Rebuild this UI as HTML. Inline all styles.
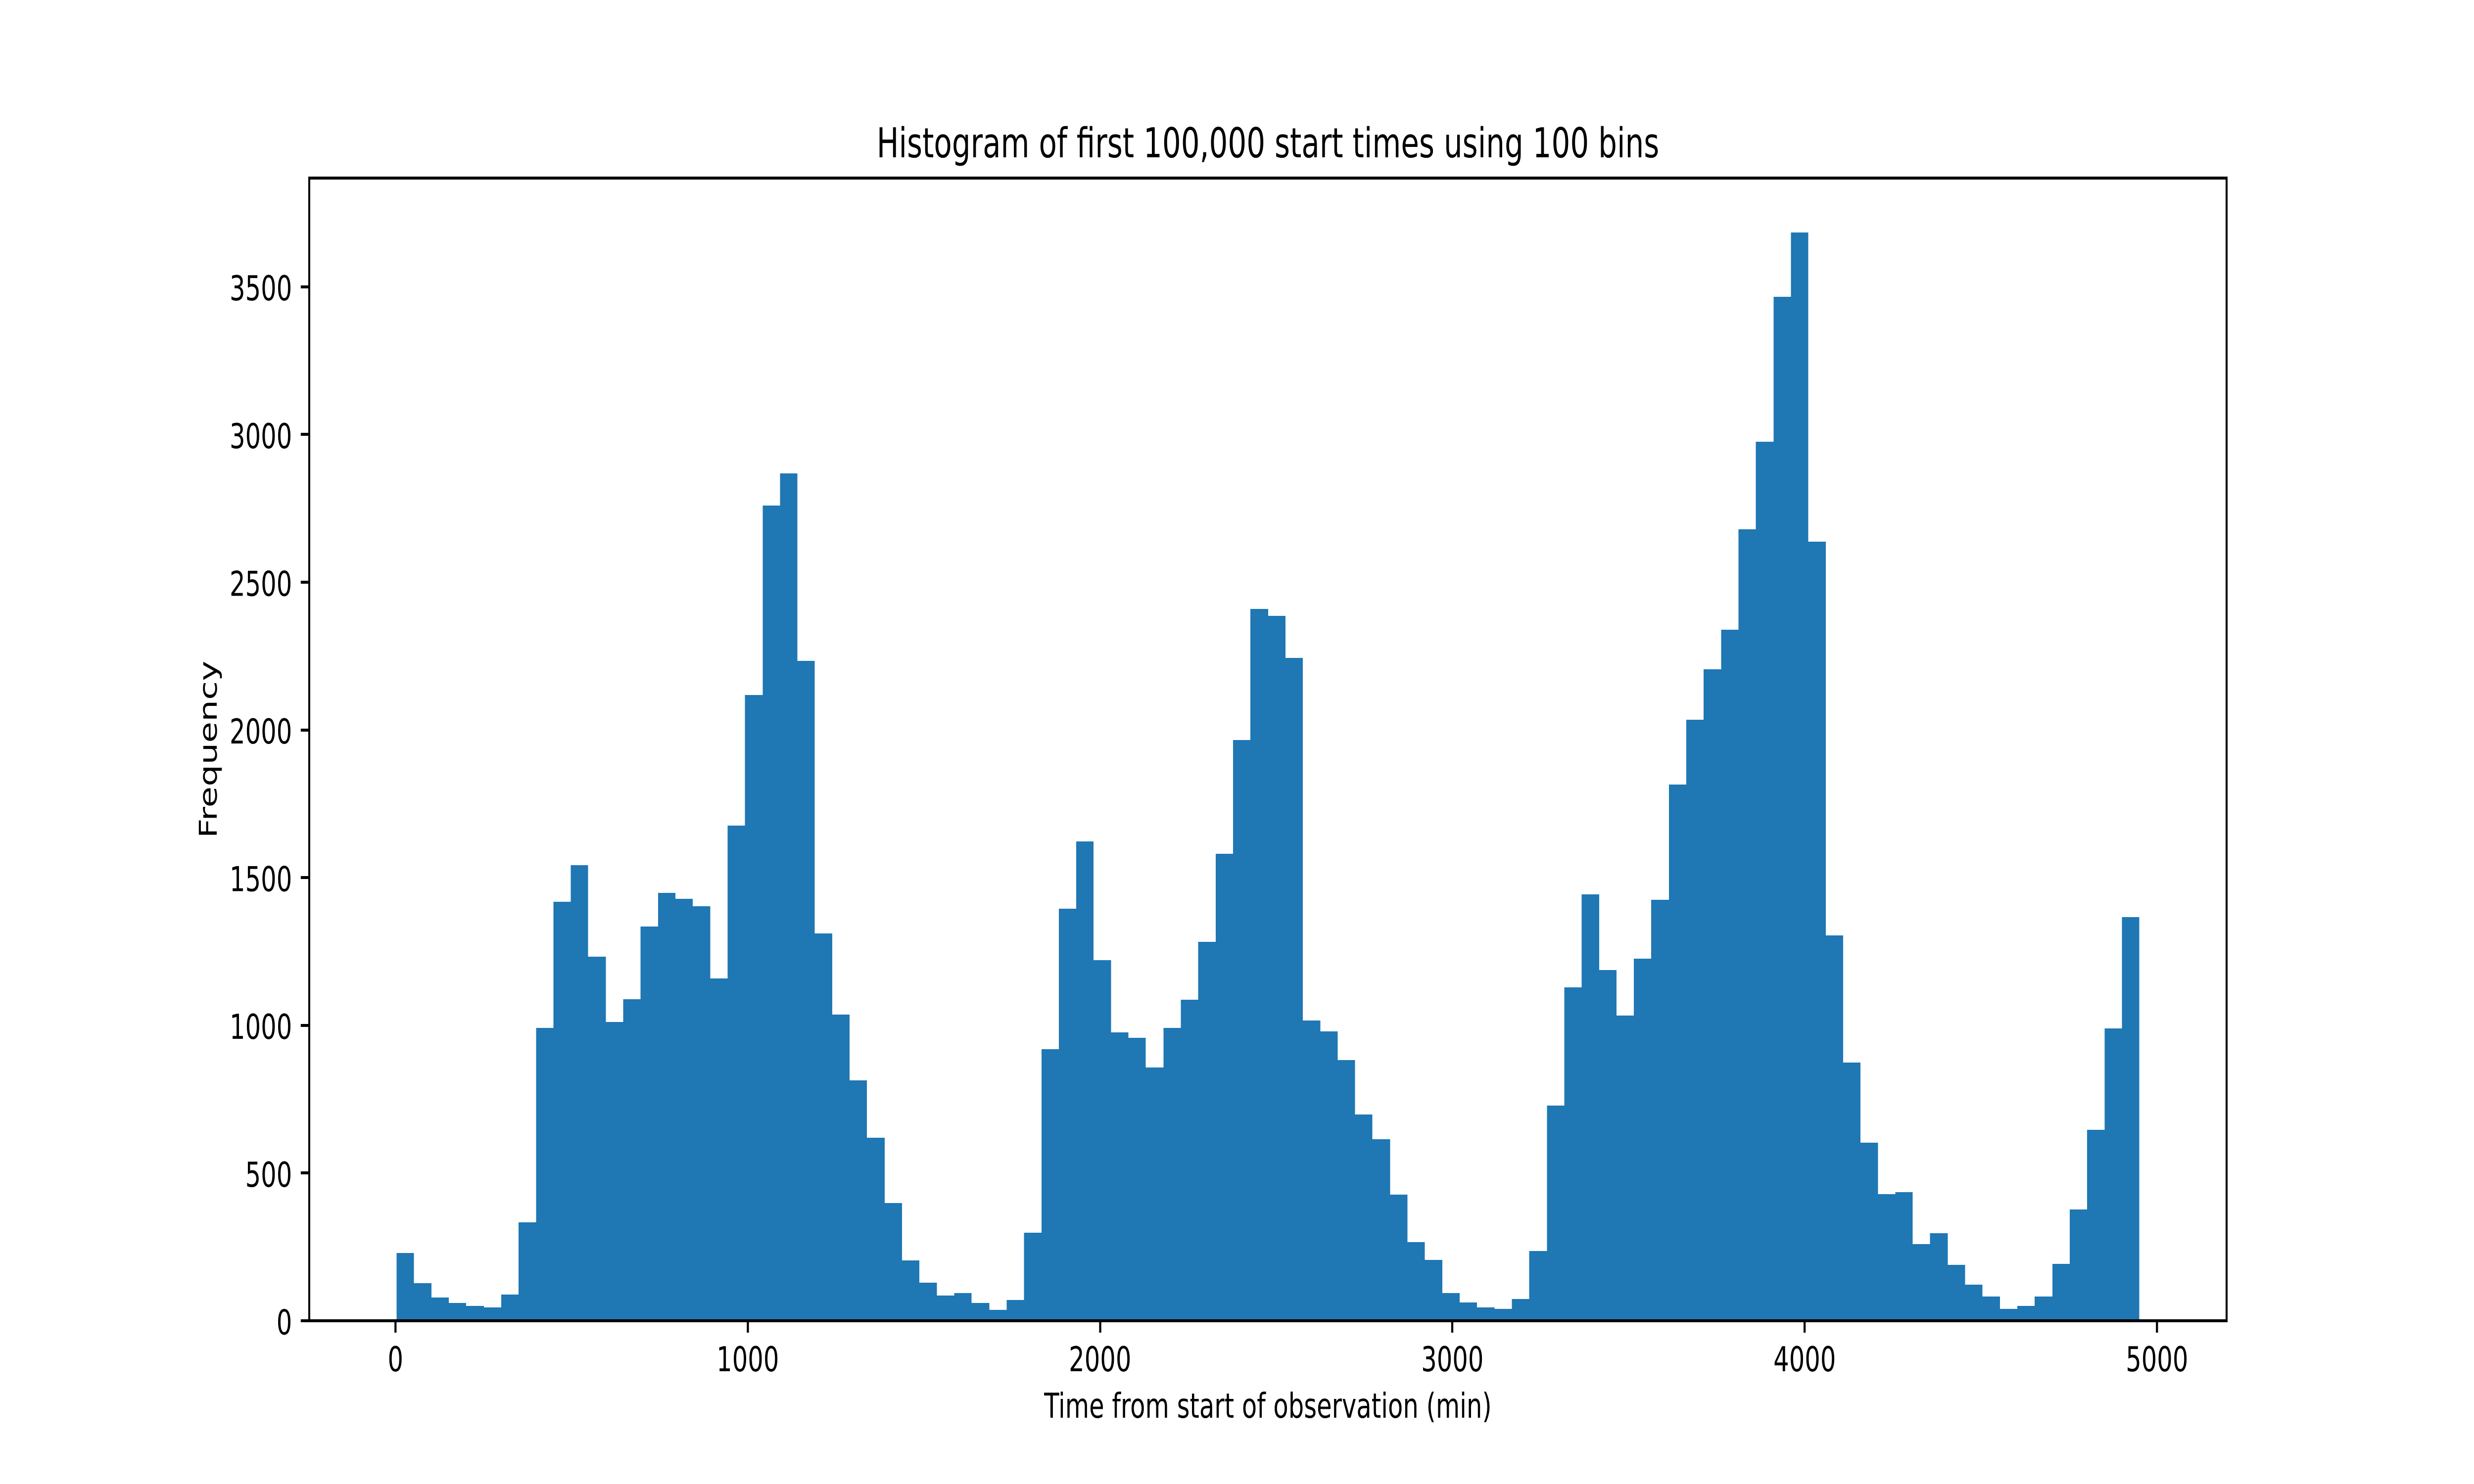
<!DOCTYPE html>
<html lang="en">
<head>
<meta charset="utf-8">
<title>Histogram of first 100,000 start times using 100 bins</title>
<style>
  html, body { margin: 0; padding: 0; background: #fff; width: 100%; height: 100%; overflow: hidden; }
  svg { display: block; position: fixed; left: 0; top: 0; width: 100vw; height: 100vh; }
  text { font-family: "DejaVu Sans", "Liberation Sans", sans-serif; fill: #000; text-rendering: geometricPrecision; }
</style>
</head>
<body>
<svg id="chart" xmlns="http://www.w3.org/2000/svg" viewBox="0 0 7000 3000" preserveAspectRatio="none">
  <rect x="0" y="0" width="7000" height="3000" fill="#ffffff"></rect>
  <g id="bars" shape-rendering="crispEdges"></g>
  <g id="x-axis"></g>
  <g id="y-axis"></g>
  <g shape-rendering="crispEdges" stroke="#000" stroke-width="6" stroke-linecap="square">
    <line x1="875" y1="360" x2="875" y2="2670"></line>
    <line x1="6300" y1="360" x2="6300" y2="2670"></line>
    <line x1="875" y1="360" x2="6300" y2="360"></line>
    <line x1="875" y1="2670" x2="6300" y2="2670"></line>
  </g>
  <text x="3587.5" y="318" font-size="83.33" text-anchor="middle">Histogram of first 100,000 start times using 100 bins</text>
  <text x="3587.5" y="2866" font-size="69.44" text-anchor="middle">Time from start of observation (min)</text>
  <text x="613" y="1515" font-size="69.44" text-anchor="middle" transform="rotate(-90 613 1515)">Frequency</text>
</svg>
<script>
const binCounts = [
  230, 127, 79, 61, 51, 46, 88, 333, 991, 1419,
  1543, 1232, 1012, 1089, 1334, 1449, 1428, 1403, 1159, 1676,
  2119, 2760, 2868, 2234, 1311, 1036, 813, 619, 398, 204,
  129, 85, 94, 60, 37, 71, 298, 919, 1394, 1623,
  1221, 977, 958, 858, 992, 1086, 1282, 1581, 1965, 2409,
  2386, 2244, 1017, 979, 883, 698, 615, 427, 267, 206,
  94, 62, 45, 41, 74, 236, 728, 1128, 1443, 1187,
  1033, 1225, 1425, 1815, 2035, 2205, 2340, 2679, 2976, 3466,
  3684, 2638, 1305, 874, 602, 428, 436, 259, 297, 190,
  123, 82, 41, 51, 82, 192, 377, 646, 990, 1366
];
const binStart = 3;
const binWidth = 49.47;
const xTickValues = [0, 1000, 2000, 3000, 4000, 5000];
const yTickValues = [0, 500, 1000, 1500, 2000, 2500, 3000, 3500];

const NS = 'http://www.w3.org/2000/svg';
const plot = { left: 875, right: 6300, top: 360, bottom: 2670 };
const xDomain = [-244.8, 5197.6];
const yDomain = [0, 3868];

function xScale(v) {
  return plot.left + (v - xDomain[0]) / (xDomain[1] - xDomain[0]) * (plot.right - plot.left);
}
function yScale(v) {
  return plot.bottom - (v - yDomain[0]) / (yDomain[1] - yDomain[0]) * (plot.bottom - plot.top);
}
function make(tag, attrs) {
  const el = document.createElementNS(NS, tag);
  Object.keys(attrs).forEach(function (k) { el.setAttribute(k, attrs[k]); });
  return el;
}

const barsGroup = document.getElementById('bars');
binCounts.forEach(function (count, i) {
  const x0 = Math.round(xScale(binStart + i * binWidth));
  const x1 = Math.round(xScale(binStart + (i + 1) * binWidth));
  const yTop = Math.round(yScale(count));
  const bar = make('rect', { x: x0, y: yTop, width: x1 - x0, height: Math.round(yScale(0)) - yTop, fill: '#1f77b4' });
  
  
  barsGroup.appendChild(bar);
});

const xAxisGroup = document.getElementById('x-axis');
xTickValues.forEach(function (v) {
  const x = xScale(v);
  const tick = make('rect', { x: Math.round(x) - 3, y: plot.bottom, width: 6, height: 24, fill: '#000' });
  
  
  xAxisGroup.appendChild(tick);
  const label = make('text', { x: x, y: 2772, 'font-size': 69.44, 'text-anchor': 'middle' });
  
  
  label.textContent = String(v);
  xAxisGroup.appendChild(label);
});

const yAxisGroup = document.getElementById('y-axis');
yTickValues.forEach(function (v) {
  const y = yScale(v);
  const tick = make('rect', { x: plot.left - 24, y: Math.round(y) - 3, width: 24, height: 6, fill: '#000' });
  
  
  yAxisGroup.appendChild(tick);
  const label = make('text', { x: 826.4, y: y + 27.4, 'font-size': 69.44, 'text-anchor': 'end' });
  
  
  label.textContent = String(v);
  yAxisGroup.appendChild(label);
});
</script>
</body>
</html>
